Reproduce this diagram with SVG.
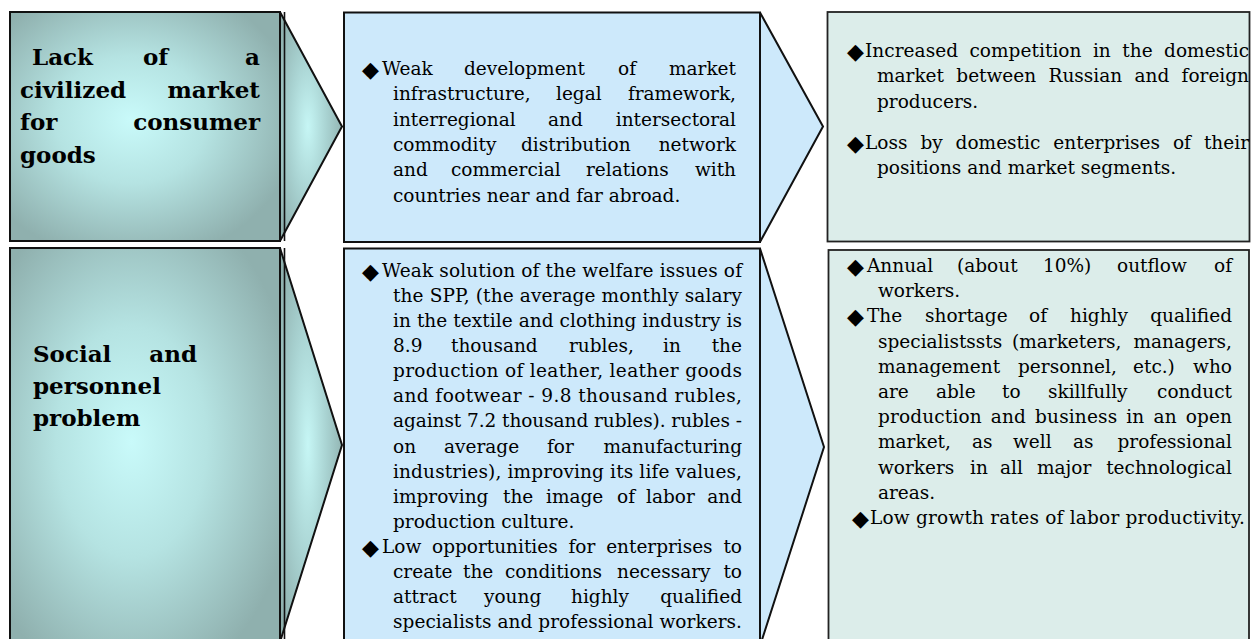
<svg xmlns="http://www.w3.org/2000/svg" width="1251" height="639" viewBox="0 0 1251 639">
  <defs>
    <!-- soft teal glow used by the problem boxes on the left -->
    <radialGradient id="tealGlow" cx="0.45" cy="0.47" r="0.62">
      <stop offset="0" stop-color="#c9fafa"/>
      <stop offset="0.45" stop-color="#b5e3e2"/>
      <stop offset="1" stop-color="#8fb0ae"/>
    </radialGradient>
    <radialGradient id="tealFin" cx="0.45" cy="0.5" r="0.6">
      <stop offset="0" stop-color="#c6f6f5"/>
      <stop offset="0.5" stop-color="#a9d3d2"/>
      <stop offset="1" stop-color="#8fb0ae"/>
    </radialGradient>
    <style>
      .cause { fill: url(#tealGlow); stroke: #111; stroke-width: 2; }
      .factor { fill: #cde9fb; stroke: #111; stroke-width: 2; }
      .effect { fill: #dcedea; stroke: #222; stroke-width: 1.8; }
      .fin-teal { fill: url(#tealFin); stroke: #111; stroke-width: 2; stroke-linejoin: miter; }
      .fin-blue { fill: #cde9fb; stroke: #111; stroke-width: 2; stroke-linejoin: miter; }
      .seam { stroke: #111; stroke-width: 1.6; }
      .head { font-family: "DejaVu Serif", "Liberation Serif", serif; font-weight: bold; font-size: 23px; fill: #000; }
      .body { font-family: "DejaVu Serif", "Liberation Serif", serif; font-size: 18.5px; fill: #000; }
      .dia { font-family: "DejaVu Sans", sans-serif; font-size: 22px; fill: #000; }
      .end { text-anchor: end; }
    </style>
  </defs>

  <rect width="1251" height="639" fill="#ffffff"/>

  <!-- chevrons linking each column to the next -->
  <g id="connectors">
    <path class="fin-teal" d="M280,12 L342,126.5 L280,241 Z"/>
    <line class="seam" x1="284.5" y1="12" x2="284.5" y2="241"/>
    <path class="fin-teal" d="M280,248 L342,445 L280,642 Z"/>
    <line class="seam" x1="284.5" y1="248" x2="284.5" y2="642"/>
    <path class="fin-blue" d="M760,12.5 L823,126.5 L760,242 Z"/>
    <path class="fin-blue" d="M760,248.5 L824,447 L760,646 Z"/>
  </g>

  <!-- row 1: market -->
  <g id="cause-market">
    <rect class="cause" x="10" y="12" width="270" height="229"/>
    <text class="head" y="65"><tspan x="32">Lack</tspan><tspan x="143">of</tspan><tspan x="260" class="end">a</tspan></text>
    <text class="head" y="97.5"><tspan x="20">civilized</tspan><tspan x="260" class="end">market</tspan></text>
    <text class="head" y="130"><tspan x="20">for</tspan><tspan x="260" class="end">consumer</tspan></text>
    <text class="head" x="20" y="162.5">goods</text>
  </g>

  <g id="factor-market">
    <rect class="factor" x="344" y="12.5" width="416" height="229.5"/>
    <text class="dia" x="362" y="77">◆</text>
    <text class="body" y="75"><tspan x="382">Weak</tspan><tspan x="464">development</tspan><tspan x="618">of</tspan><tspan x="736" class="end">market</tspan></text>
    <text class="body" y="100.3"><tspan x="393">infrastructure,</tspan><tspan x="556">legal</tspan><tspan x="736" class="end">framework,</tspan></text>
    <text class="body" y="125.6"><tspan x="393">interregional</tspan><tspan x="548">and</tspan><tspan x="736" class="end">intersectoral</tspan></text>
    <text class="body" y="150.9"><tspan x="393">commodity</tspan><tspan x="521">distribution</tspan><tspan x="736" class="end">network</tspan></text>
    <text class="body" y="176.2"><tspan x="393">and</tspan><tspan x="451">commercial</tspan><tspan x="586">relations</tspan><tspan x="736" class="end">with</tspan></text>
    <text class="body" x="393" y="201.5">countries near and far abroad.</text>
  </g>

  <g id="effect-market">
    <rect class="effect" x="827.5" y="12" width="422" height="229.5"/>
    <text class="dia" x="847" y="58.5">◆</text>
    <text class="body" x="865" y="56.5" word-spacing="5.5" textLength="384" lengthAdjust="spacing">Increased competition in the domestic</text>
    <text class="body" x="877" y="82" word-spacing="6.5" textLength="372" lengthAdjust="spacing">market between Russian and foreign</text>
    <text class="body" x="877" y="107.5">producers.</text>
    <text class="dia" x="847" y="150.5">◆</text>
    <text class="body" x="865" y="148.5" word-spacing="7" textLength="384" lengthAdjust="spacing">Loss by domestic enterprises of their</text>
    <text class="body" x="877" y="174">positions and market segments.</text>
  </g>

  <!-- row 2: social and personnel -->
  <g id="cause-social">
    <rect class="cause" x="10" y="248" width="270" height="412"/>
    <text class="head" y="362"><tspan x="33">Social</tspan><tspan x="197" class="end">and</tspan></text>
    <text class="head" x="33" y="394">personnel</text>
    <text class="head" x="33" y="426">problem</text>
  </g>

  <g id="factor-social">
    <rect class="factor" x="344" y="248.5" width="416" height="412"/>
    <text class="dia" x="362" y="278.7">◆</text>
    <text class="body" x="382" y="276.7" textLength="360" lengthAdjust="spacing">Weak solution of the welfare issues of</text>
    <text class="body" x="393" y="301.8" textLength="349" lengthAdjust="spacing">the SPP, (the average monthly salary</text>
    <text class="body" x="393" y="326.9" textLength="349" lengthAdjust="spacing">in the textile and clothing industry is</text>
    <text class="body" y="352.1"><tspan x="393">8.9</tspan><tspan x="451">thousand</tspan><tspan x="569">rubles,</tspan><tspan x="663">in</tspan><tspan x="742" class="end">the</tspan></text>
    <text class="body" x="393" y="377.2" textLength="349" lengthAdjust="spacing">production of leather, leather goods</text>
    <text class="body" x="393" y="402.3" textLength="349" lengthAdjust="spacing">and footwear - 9.8 thousand rubles,</text>
    <text class="body" x="393" y="427.4" textLength="349" lengthAdjust="spacing">against 7.2 thousand rubles). rubles -</text>
    <text class="body" y="452.5"><tspan x="393">on</tspan><tspan x="444">average</tspan><tspan x="547">for</tspan><tspan x="742" class="end">manufacturing</tspan></text>
    <text class="body" x="393" y="477.7" textLength="349" lengthAdjust="spacing">industries), improving its life values,</text>
    <text class="body" y="502.8"><tspan x="393">improving</tspan><tspan x="503">the</tspan><tspan x="546">image</tspan><tspan x="617">of</tspan><tspan x="646">labor</tspan><tspan x="742" class="end">and</tspan></text>
    <text class="body" x="393" y="527.9">production culture.</text>
    <text class="dia" x="362" y="555">◆</text>
    <text class="body" x="382" y="553" word-spacing="5" textLength="360" lengthAdjust="spacing">Low opportunities for enterprises to</text>
    <text class="body" y="578.1"><tspan x="393">create</tspan><tspan x="463">the</tspan><tspan x="505">conditions</tspan><tspan x="617">necessary</tspan><tspan x="742" class="end">to</tspan></text>
    <text class="body" y="603.3"><tspan x="393">attract</tspan><tspan x="484">young</tspan><tspan x="571">highly</tspan><tspan x="742" class="end">qualified</tspan></text>
    <text class="body" x="393" y="628.4" textLength="349" lengthAdjust="spacing">specialists and professional workers.</text>
  </g>

  <g id="effect-social">
    <rect class="effect" x="828.5" y="250" width="420.5" height="410"/>
    <text class="dia" x="847" y="274">◆</text>
    <text class="body" y="272"><tspan x="867">Annual</tspan><tspan x="957">(about</tspan><tspan x="1043">10%)</tspan><tspan x="1117">outflow</tspan><tspan x="1232" class="end">of</tspan></text>
    <text class="body" x="878" y="297.2">workers.</text>
    <text class="dia" x="847" y="324.4">◆</text>
    <text class="body" y="322.4"><tspan x="867">The</tspan><tspan x="925">shortage</tspan><tspan x="1029">of</tspan><tspan x="1070">highly</tspan><tspan x="1232" class="end">qualified</tspan></text>
    <text class="body" y="347.6"><tspan x="878">specialistssts</tspan><tspan x="1012">(marketers,</tspan><tspan x="1232" class="end">managers,</tspan></text>
    <text class="body" y="372.8"><tspan x="878">management</tspan><tspan x="1018">personnel,</tspan><tspan x="1133">etc.)</tspan><tspan x="1232" class="end">who</tspan></text>
    <text class="body" y="398"><tspan x="878">are</tspan><tspan x="936">able</tspan><tspan x="1002">to</tspan><tspan x="1048">skillfully</tspan><tspan x="1232" class="end">conduct</tspan></text>
    <text class="body" x="878" y="423.2" word-spacing="3" textLength="354" lengthAdjust="spacing">production and business in an open</text>
    <text class="body" y="448.4"><tspan x="878">market,</tspan><tspan x="972">as</tspan><tspan x="1013">well</tspan><tspan x="1073">as</tspan><tspan x="1232" class="end">professional</tspan></text>
    <text class="body" y="473.6"><tspan x="878">workers</tspan><tspan x="970">in</tspan><tspan x="1000">all</tspan><tspan x="1037">major</tspan><tspan x="1232" class="end">technological</tspan></text>
    <text class="body" x="878" y="498.8">areas.</text>
    <text class="dia" x="852" y="526">◆</text>
    <text class="body" x="870" y="524" textLength="375" lengthAdjust="spacing">Low growth rates of labor productivity.</text>
  </g>
</svg>
